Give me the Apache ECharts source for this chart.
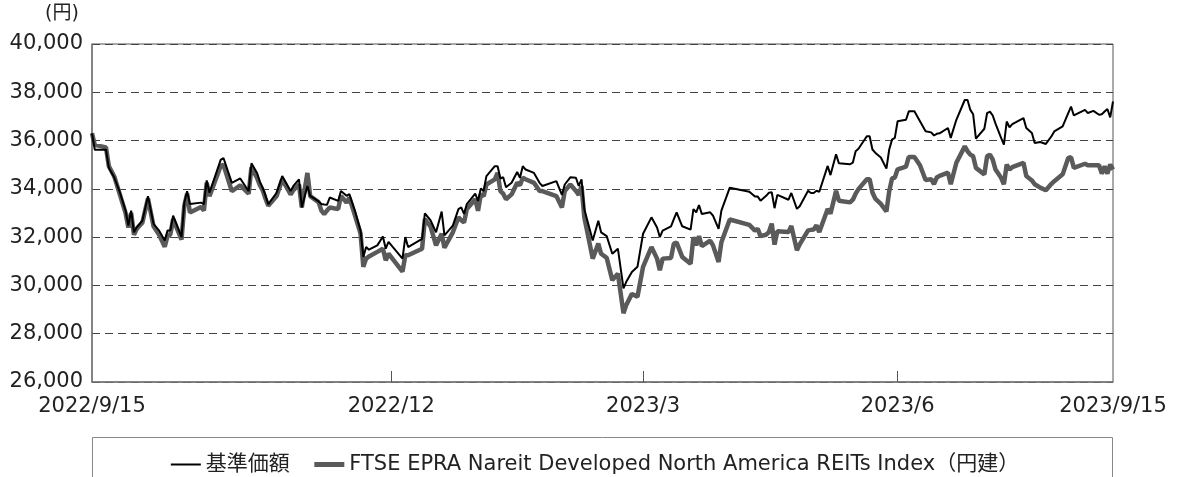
<!DOCTYPE html>
<html>
<head>
<meta charset="utf-8">
<script src="https://cdn.jsdelivr.net/npm/echarts@6/dist/echarts.min.js"></script>
<style>
html,body{margin:0;padding:0;background:#fff;}
#chart{width:1189px;height:477px;}
</style>
</head>
<body>
<div id="chart"></div>
<script>
// Days elapsed since 2022/9/15 for each plotted point
const days = [0,1,5,6,8,10,12,13,14,15,16,18,20,22,24,26,27,28,29,32,33,34,35,39,40,41,42,46,47,50,53,56,57,59,60,61,62,63,66,68,71,72,74,75,77,78,81,82,83,84,85,88,89,91,92,94,96,97,98,99,102,104,105,106,111,112,113,118,119,121,123,125,126,129,131,132,133,134,137,138,139,140,141,144,145,146,147,148,150,152,153,154,155,158,160,161,166,168,169,171,173,174,175,176,179,181,182,184,186,188,190,191,193,195,197,200,202,203,204,207,208,209,211,214,215,216,217,218,221,222,224,225,228,235,237,238,239,241,242,243,244,245,249,250,252,253,256,257,258,259,260,263,264,266,267,271,272,273,274,277,278,279,280,282,284,285,286,287,288,291,292,294,296,298,300,301,302,303,306,307,309,312,313,314,315,316,319,320,321,322,323,325,326,327,328,329,333,334,336,337,339,341,343,344,347,349,350,351,355,356,358,360,361,362,363,364,365];
// 基準価額
const nav = [36300,35620,35620,34870,34460,33840,33100,32480,33100,32200,32410,32680,33700,32550,32270,31860,32270,32270,32890,32000,33430,33900,33370,33430,33370,34350,33840,35200,35280,34250,34430,33900,35060,34660,34300,34050,33730,33360,33840,34530,33910,34120,34390,33230,34120,33710,33480,33370,33350,33340,33640,33500,33910,33710,33780,33090,32270,31180,31590,31480,31660,32030,31520,31800,31110,32000,31590,31930,32980,32700,32200,33060,32070,32480,33160,33230,32960,33370,33800,33500,34020,33910,34530,34940,34940,34430,34480,34070,34250,34700,34460,34940,34800,34660,34250,34120,34320,33750,34180,34480,34460,34120,34390,33160,31860,32680,32200,32040,31310,31520,29880,30150,30560,30770,32140,32820,32400,32000,32270,32450,32750,33030,32450,32310,33160,33030,33330,32960,33030,32890,32340,33100,34050,33880,33680,33680,33510,33710,33840,33860,33200,33750,33550,33830,33170,33280,33920,33830,33830,33920,33880,34950,34570,35430,35060,35020,35090,35560,35660,36180,36180,35630,35500,35300,34840,35630,36040,36110,36800,36860,37210,37210,36800,36390,36340,36210,36280,36300,36520,36110,36860,37680,37680,37270,37090,36080,36490,37140,37200,37040,36700,36110,35830,36790,36550,36680,36930,36520,36310,35900,35940,35860,36180,36380,36590,37140,37410,37040,37270,37140,37230,37070,37090,37200,37310,36960,37620];
// FTSE EPRA Nareit Developed North America REITs Index（円建）
const bench = [36300,35820,35720,34950,34500,33750,33000,32400,33000,32100,32350,32600,33600,32450,32100,31600,32050,32100,32750,31900,33300,33800,33020,33250,33100,34250,33700,34950,35000,33900,34150,33800,34900,34450,34150,33950,33600,33300,33700,34390,33770,33950,34180,33230,34660,33700,33450,33100,32960,33100,33230,33160,33710,33430,33640,32900,32150,30770,31110,31200,31390,31520,31040,31320,30570,31250,31250,31520,32750,32450,31660,32140,31560,32200,32820,32700,32610,33160,33570,33090,33770,33700,34180,34390,34660,33910,33800,33570,33770,34250,34150,34460,34400,34250,33910,33910,33700,33230,33910,34180,33910,33750,34120,32820,31110,31730,31310,31140,30220,30490,28850,29190,29650,29530,30770,31590,31110,30630,31110,31140,31730,31770,31180,30900,32000,31660,32040,31630,31860,31660,30970,31790,32730,32510,32270,32340,32040,32100,32210,32560,31690,32240,32210,32460,31460,31700,32280,32300,32320,32490,32210,33170,32970,33920,33510,33440,33550,33800,33990,34400,34400,33850,33600,33380,33060,33900,34430,34470,34810,34920,35320,35320,34980,34370,34400,34200,34470,34540,34670,34190,35080,35760,35560,35420,35350,34870,34600,35350,35420,35210,34800,34460,34190,35010,34800,34900,35080,34530,34350,34190,34050,33940,34210,34320,34600,35280,35310,34870,35040,34980,34980,34980,34630,34940,34630,35010,34800];
const seriesNames = ['基準価額', 'FTSE EPRA Nareit Developed North America REITs Index（円建）'];
// x-axis labels (days since 2022/9/15) and their texts
const xLabelDays = [0, 107, 197, 288, 365];
const xLabelTexts = ['2022/9/15', '2022/12', '2023/3', '2023/6', '2023/9/15'];
const xTickDays = [107, 197, 288];
const yMin = 26000, yMax = 40000, yStep = 2000;

const navData = days.map((d, i) => [d, nav[i]]);
const benchData = days.map((d, i) => [d, bench[i]]);
const labelMap = {};
xLabelDays.forEach((d, i) => { labelMap[d] = xLabelTexts[i]; });

const FONT = '"DejaVu Sans", "Noto Sans CJK JP", sans-serif';
const legendText = {fontSize: 21, color: '#222', fontFamily: FONT, fontWeight: 'normal', textBorderWidth: 0, textBorderColor: 'transparent'};
const chart = echarts.init(document.getElementById('chart'), null, {renderer: 'canvas'});
chart.setOption({
  animation: false,
  backgroundColor: '#fff',
  textStyle: {fontFamily: FONT},
  grid: {left: 92, right: 76, top: 44, bottom: 95, show: true, borderColor: '#555', borderWidth: 1, backgroundColor: 'transparent'},
  xAxis: {
    type: 'value',
    min: 0, max: 365,
    axisLine: {show: true, lineStyle: {color: '#777', width: 1.5}},
    axisTick: {show: true, inside: true, length: 11, customValues: xTickDays, lineStyle: {color: '#555'}},
    axisLabel: {
      customValues: xLabelDays,
      showMinLabel: true, showMaxLabel: true,
      formatter: v => labelMap[v] || '',
      color: '#222', fontSize: 21, fontFamily: FONT, margin: 14
    },
    splitLine: {show: false}
  },
  yAxis: {
    type: 'value',
    min: yMin, max: yMax, interval: yStep,
    axisLine: {show: true, lineStyle: {color: '#777', width: 1.5}},
    axisTick: {show: false},
    axisLabel: {
      formatter: v => v.toLocaleString('en-US'),
      color: '#222', fontSize: 21, fontFamily: FONT, margin: 9
    },
    splitLine: {show: true, lineStyle: {color: '#444', type: [8, 5], width: 1}}
  },
  legend: {
    data: [
      {name: seriesNames[0], lineStyle: {width: 2}, textStyle: legendText},
      {name: seriesNames[1], lineStyle: {width: 5}, textStyle: legendText}
    ],
    left: 'center', top: 449,
    itemWidth: 30, itemHeight: 12, itemGap: 22,
    itemStyle: {opacity: 0},
    textStyle: legendText
  },
  graphic: [
    {type: 'polyline', shape: {points: [[92.5, 530], [92.5, 437.5], [1112.5, 437.5], [1112.5, 530]]}, style: {fill: null, stroke: '#888', lineWidth: 1}, silent: true, z: 10},
    {type: 'text', left: 45, top: 5, style: {text: '(円)', fontSize: 19, fill: '#222', fontFamily: FONT}}
  ],
  series: [
    {name: seriesNames[1], type: 'line', data: benchData, symbol: 'none', z: 2,
     lineStyle: {color: '#5a5a5a', width: 4.5}, itemStyle: {color: '#5a5a5a'}},
    {name: seriesNames[0], type: 'line', data: navData, symbol: 'none', z: 3,
     lineStyle: {color: '#000', width: 2}, itemStyle: {color: '#000'}}
  ]
});
</script>
</body>
</html>
